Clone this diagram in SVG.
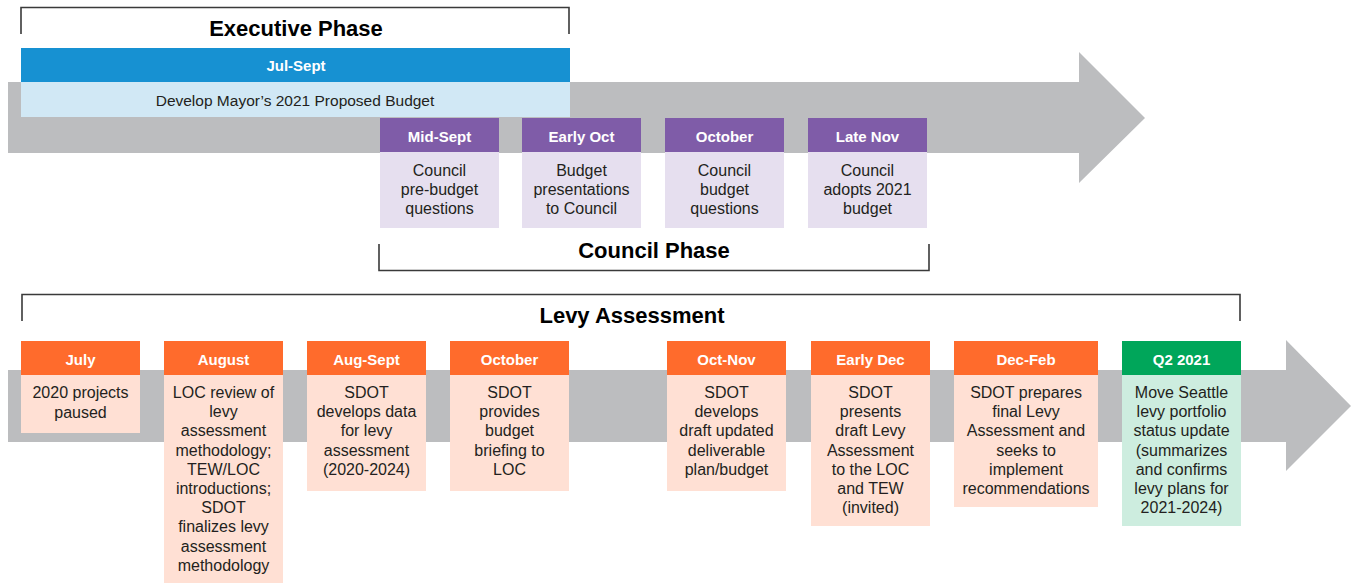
<svg xmlns="http://www.w3.org/2000/svg" width="1351" height="586" viewBox="0 0 1351 586">
<style>
text{font-family:"Liberation Sans",Arial,sans-serif;text-anchor:middle}
.t{font-size:16px;fill:#231f20}
.h{font-size:15px;font-weight:bold;fill:#ffffff}
.ph{font-size:22px;font-weight:bold;fill:#000000}
.br{fill:none;stroke:#3a3a3a;stroke-width:1.6}
.arrow{fill:#bcbdbf}
.ph1{fill:#7f5ca8}.pb1{fill:#e6dfef}
.oh{fill:#ff6b2c}.ob{fill:#ffe0d4}
.gh{fill:#00a65a}.gb{fill:#cdeddf}
</style>
<rect width="1351" height="586" fill="#ffffff"/>
<g id="timelines">
<polygon class="arrow" points="8,82 1079,82 1079,52 1145,118 1079,183 1079,153 8,153"/>
<polygon class="arrow" points="8,370 1286,370 1286,340 1351,406 1286,471 1286,442 8,442"/>
</g>
<g id="brackets">
<g id="executive-phase">
<polyline class="br" points="21,34 21,7.5 569,7.5 569,34"/>
<text class="ph" x="296" y="36">Executive Phase</text>
</g>
<g id="council-phase">
<polyline class="br" points="379,244 379,270.5 929,270.5 929,244"/>
<text class="ph" x="654" y="258">Council Phase</text>
</g>
<g id="levy-assessment">
<polyline class="br" points="22,321 22,294.5 1240,294.5 1240,321"/>
<text class="ph" x="632" y="323">Levy Assessment</text>
</g>
</g>
<g id="jul-sept">
<rect x="21" y="48" width="549" height="34" fill="#1791d2"/>
<rect x="21" y="82" width="549" height="35" fill="#d1e8f5"/>
<text class="h" x="296" y="71">Jul-Sept</text>
<text class="t" x="295" y="105.5" style="font-size:15.5px">Develop Mayor’s 2021 Proposed Budget</text>
</g>
<g id="mid-sept">
<rect class="ph1" x="380" y="118" width="119" height="34"/>
<rect class="pb1" x="380" y="152" width="119" height="76"/>
<text class="h" x="439.5" y="142">Mid-Sept</text>
<text class="t" x="439.5" y="175.5">Council</text>
<text class="t" x="439.5" y="194.5">pre-budget</text>
<text class="t" x="439.5" y="213.5">questions</text>
</g>
<g id="early-oct">
<rect class="ph1" x="522" y="118" width="119" height="34"/>
<rect class="pb1" x="522" y="152" width="119" height="76"/>
<text class="h" x="581.5" y="142">Early Oct</text>
<text class="t" x="581.5" y="175.5">Budget</text>
<text class="t" x="581.5" y="194.5">presentations</text>
<text class="t" x="581.5" y="213.5">to Council</text>
</g>
<g id="october-council">
<rect class="ph1" x="665" y="118" width="119" height="34"/>
<rect class="pb1" x="665" y="152" width="119" height="76"/>
<text class="h" x="724.5" y="142">October</text>
<text class="t" x="724.5" y="175.5">Council</text>
<text class="t" x="724.5" y="194.5">budget</text>
<text class="t" x="724.5" y="213.5">questions</text>
</g>
<g id="late-nov">
<rect class="ph1" x="808" y="118" width="119" height="34"/>
<rect class="pb1" x="808" y="152" width="119" height="76"/>
<text class="h" x="867.5" y="142">Late Nov</text>
<text class="t" x="867.5" y="175.5">Council</text>
<text class="t" x="867.5" y="194.5">adopts 2021</text>
<text class="t" x="867.5" y="213.5">budget</text>
</g>
<g id="july">
<rect class="oh" x="21" y="341" width="119" height="34"/>
<rect class="ob" x="21" y="375" width="119" height="58"/>
<text class="h" x="80.5" y="365">July</text>
<text class="t" x="80.5" y="398">2020 projects</text>
<text class="t" x="80.5" y="417.5">paused</text>
</g>
<g id="august">
<rect class="oh" x="164" y="341" width="119" height="34"/>
<rect class="ob" x="164" y="375" width="119" height="208"/>
<text class="h" x="223.5" y="365">August</text>
<text class="t" x="223.5" y="398">LOC review of</text>
<text class="t" x="223.5" y="417.2">levy</text>
<text class="t" x="223.5" y="436.4">assessment</text>
<text class="t" x="223.5" y="455.6">methodology;</text>
<text class="t" x="223.5" y="474.8">TEW/LOC</text>
<text class="t" x="223.5" y="494">introductions;</text>
<text class="t" x="223.5" y="513.2">SDOT</text>
<text class="t" x="223.5" y="532.4">finalizes levy</text>
<text class="t" x="223.5" y="551.6">assessment</text>
<text class="t" x="223.5" y="570.8">methodology</text>
</g>
<g id="aug-sept">
<rect class="oh" x="307" y="341" width="119" height="34"/>
<rect class="ob" x="307" y="375" width="119" height="116"/>
<text class="h" x="366.5" y="365">Aug-Sept</text>
<text class="t" x="366.5" y="398">SDOT</text>
<text class="t" x="366.5" y="417.2">develops data</text>
<text class="t" x="366.5" y="436.4">for levy</text>
<text class="t" x="366.5" y="455.6">assessment</text>
<text class="t" x="366.5" y="474.8">(2020-2024)</text>
</g>
<g id="october-levy">
<rect class="oh" x="450" y="341" width="119" height="34"/>
<rect class="ob" x="450" y="375" width="119" height="116"/>
<text class="h" x="509.5" y="365">October</text>
<text class="t" x="509.5" y="398">SDOT</text>
<text class="t" x="509.5" y="417.2">provides</text>
<text class="t" x="509.5" y="436.4">budget</text>
<text class="t" x="509.5" y="455.6">briefing to</text>
<text class="t" x="509.5" y="474.8">LOC</text>
</g>
<g id="oct-nov">
<rect class="oh" x="667" y="341" width="119" height="34"/>
<rect class="ob" x="667" y="375" width="119" height="116"/>
<text class="h" x="726.5" y="365">Oct-Nov</text>
<text class="t" x="726.5" y="398">SDOT</text>
<text class="t" x="726.5" y="417.2">develops</text>
<text class="t" x="726.5" y="436.4">draft updated</text>
<text class="t" x="726.5" y="455.6">deliverable</text>
<text class="t" x="726.5" y="474.8">plan/budget</text>
</g>
<g id="early-dec">
<rect class="oh" x="811" y="341" width="119" height="34"/>
<rect class="ob" x="811" y="375" width="119" height="151"/>
<text class="h" x="870.5" y="365">Early Dec</text>
<text class="t" x="870.5" y="398">SDOT</text>
<text class="t" x="870.5" y="417.2">presents</text>
<text class="t" x="870.5" y="436.4">draft Levy</text>
<text class="t" x="870.5" y="455.6">Assessment</text>
<text class="t" x="870.5" y="474.8">to the LOC</text>
<text class="t" x="870.5" y="494">and TEW</text>
<text class="t" x="870.5" y="513.2">(invited)</text>
</g>
<g id="dec-feb">
<rect class="oh" x="954" y="341" width="144" height="34"/>
<rect class="ob" x="954" y="375" width="144" height="132"/>
<text class="h" x="1026" y="365">Dec-Feb</text>
<text class="t" x="1026" y="398">SDOT prepares</text>
<text class="t" x="1026" y="417.2">final Levy</text>
<text class="t" x="1026" y="436.4">Assessment and</text>
<text class="t" x="1026" y="455.6">seeks to</text>
<text class="t" x="1026" y="474.8">implement</text>
<text class="t" x="1026" y="494">recommendations</text>
</g>
<g id="q2-2021">
<rect class="gh" x="1122" y="341" width="119" height="34"/>
<rect class="gb" x="1122" y="375" width="119" height="151"/>
<text class="h" x="1181.5" y="365">Q2 2021</text>
<text class="t" x="1181.5" y="398">Move Seattle</text>
<text class="t" x="1181.5" y="417.2">levy portfolio</text>
<text class="t" x="1181.5" y="436.4">status update</text>
<text class="t" x="1181.5" y="455.6">(summarizes</text>
<text class="t" x="1181.5" y="474.8">and confirms</text>
<text class="t" x="1181.5" y="494">levy plans for</text>
<text class="t" x="1181.5" y="513.2">2021-2024)</text>
</g>
<g id="connectors"/>
</svg>
